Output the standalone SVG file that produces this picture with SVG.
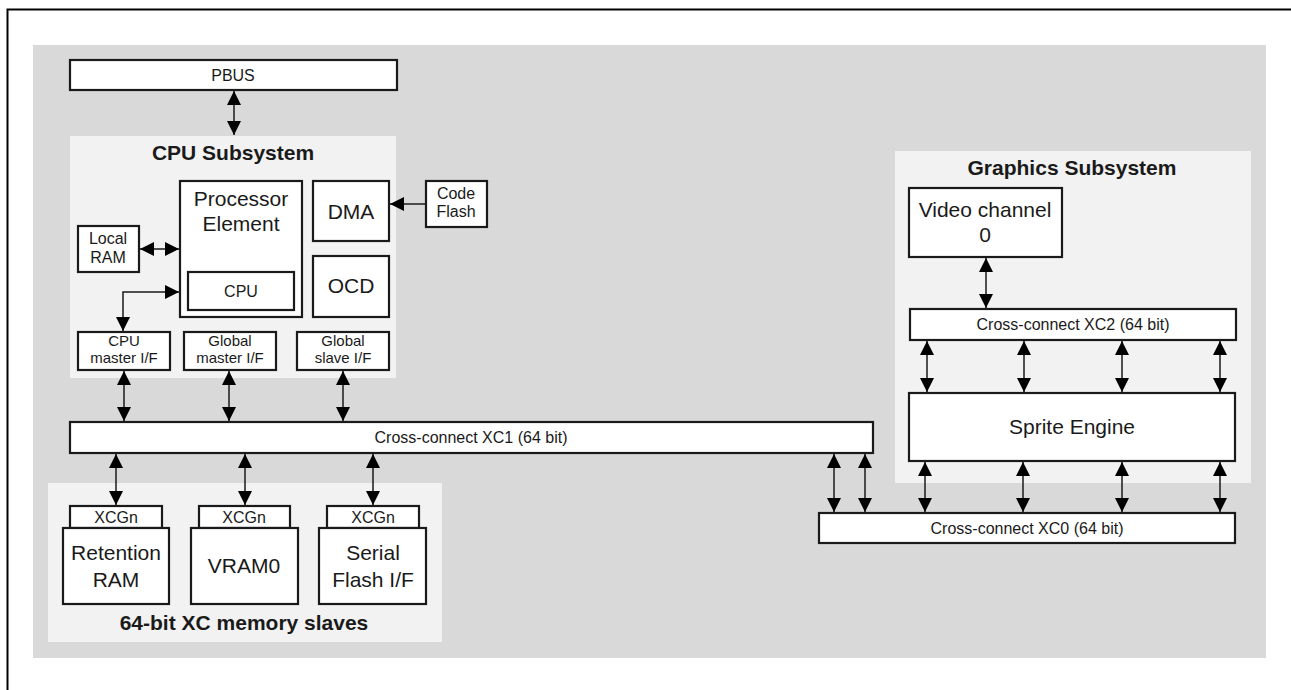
<svg xmlns="http://www.w3.org/2000/svg" width="1291" height="690" viewBox="0 0 1291 690">
<style>
.frame{fill:none;stroke:#000;stroke-width:2}
.bg{fill:#d9d9d9}
.sub{fill:#f2f2f2}
.box{fill:#fff;stroke:#1a1a1a;stroke-width:2.2}
.t{font-family:"Liberation Sans",Arial,sans-serif;fill:#1a1a1a;text-anchor:middle}
.big{font-size:21px}
.med{font-size:16px}
.sm{font-size:16px}
.ifl{font-size:15px}
.ttl{font-size:21px;font-weight:bold}
.c{fill:none;stroke:#1a1a1a;stroke-width:1.5}
</style>
<defs>
<marker id="ah" viewBox="0 0 14 14" refX="14" refY="7" markerWidth="14" markerHeight="14" markerUnits="userSpaceOnUse" orient="auto-start-reverse">
<path d="M0,0 L14,7 L0,14 Z" fill="#000"/>
</marker>
</defs>
<rect x="7.5" y="9.5" width="1300" height="700" class="frame"/>
<rect x="33" y="45" width="1233" height="613" class="bg"/>
<rect x="70" y="136" width="326" height="242" class="sub"/>
<rect x="48" y="483" width="394" height="159" class="sub"/>
<rect x="895" y="151" width="356" height="332" class="sub"/>
<text class="t ttl" x="233" y="160">CPU Subsystem</text>
<text class="t ttl" x="244" y="630">64-bit XC memory slaves</text>
<text class="t ttl" x="1072" y="175">Graphics Subsystem</text>

<g id="pbus"><rect x="70" y="60" width="327" height="30" class="box"/><text class="t sm" x="233" y="81">PBUS</text></g>
<g id="pe"><rect x="180" y="181" width="122" height="136" class="box"/><text class="t big" x="241" y="206">Processor</text><text class="t big" x="241" y="231">Element</text></g>
<g id="cpu"><rect x="188" y="272" width="106" height="38" class="box"/><text class="t med" x="241" y="297">CPU</text></g>
<g id="dma"><rect x="313" y="181" width="76" height="60" class="box"/><text class="t big" x="351" y="219">DMA</text></g>
<g id="ocd"><rect x="313" y="256" width="76" height="61" class="box"/><text class="t big" x="351" y="293">OCD</text></g>
<g id="codeflash"><rect x="426" y="181" width="61" height="46" class="box"/><text class="t med" x="456" y="199">Code</text><text class="t med" x="456" y="217">Flash</text></g>
<g id="localram"><rect x="78" y="226" width="61" height="46" class="box"/><text class="t med" x="108" y="244">Local</text><text class="t med" x="108" y="263">RAM</text></g>
<g id="cpumif"><rect x="78" y="332" width="92" height="38" class="box"/><text class="t ifl" x="124" y="346">CPU</text><text class="t ifl" x="124" y="363">master I/F</text></g>
<g id="gmif"><rect x="184" y="332" width="92" height="38" class="box"/><text class="t ifl" x="230" y="346">Global</text><text class="t ifl" x="230" y="363">master I/F</text></g>
<g id="gsif"><rect x="297" y="332" width="92" height="38" class="box"/><text class="t ifl" x="343" y="346">Global</text><text class="t ifl" x="343" y="363">slave I/F</text></g>
<g id="xc1"><rect x="70" y="422" width="803" height="31" class="box"/><text class="t sm" x="471" y="443">Cross-connect XC1 (64 bit)</text></g>
<g id="xcgn1"><rect x="70" y="506" width="92" height="22" class="box"/><text class="t med" x="116" y="523">XCGn</text></g>
<g id="xcgn2"><rect x="199" y="506" width="91" height="22" class="box"/><text class="t med" x="244" y="523">XCGn</text></g>
<g id="xcgn3"><rect x="327" y="506" width="92" height="22" class="box"/><text class="t med" x="373" y="523">XCGn</text></g>
<g id="retram"><rect x="63" y="528" width="106" height="76" class="box"/><text class="t big" x="116" y="560">Retention</text><text class="t big" x="116" y="587">RAM</text></g>
<g id="vram0"><rect x="191" y="528" width="107" height="76" class="box"/><text class="t big" x="244" y="573">VRAM0</text></g>
<g id="sflash"><rect x="319" y="528" width="107" height="76" class="box"/><text class="t big" x="373" y="560">Serial</text><text class="t big" x="373" y="587">Flash I/F</text></g>
<g id="vc0"><rect x="909" y="188" width="153" height="69" class="box"/><text class="t big" x="985" y="217">Video channel</text><text class="t big" x="985" y="242">0</text></g>
<g id="xc2"><rect x="910" y="309" width="326" height="31" class="box"/><text class="t sm" x="1073" y="330">Cross-connect XC2 (64 bit)</text></g>
<g id="sprite"><rect x="909" y="393" width="326" height="68" class="box"/><text class="t big" x="1072" y="434">Sprite Engine</text></g>
<g id="xc0"><rect x="819" y="513" width="416" height="30" class="box"/><text class="t sm" x="1027" y="534">Cross-connect XC0 (64 bit)</text></g>

<g id="connectors" class="c" marker-start="url(#ah)" marker-end="url(#ah)">
<line x1="234" y1="91" x2="234" y2="135"/>
<line x1="140" y1="249" x2="179" y2="249"/>
<polyline points="179,292 123,292 123,331"/>
<line x1="124" y1="371" x2="124" y2="421"/>
<line x1="229" y1="371" x2="229" y2="421"/>
<line x1="343" y1="371" x2="343" y2="421"/>
<line x1="116" y1="454" x2="116" y2="505"/>
<line x1="245" y1="454" x2="245" y2="505"/>
<line x1="373" y1="454" x2="373" y2="505"/>
<line x1="986" y1="258" x2="986" y2="308"/>
<line x1="927" y1="341" x2="927" y2="392"/>
<line x1="1024" y1="341" x2="1024" y2="392"/>
<line x1="1122" y1="341" x2="1122" y2="392"/>
<line x1="1220" y1="341" x2="1220" y2="392"/>
<line x1="925" y1="462" x2="925" y2="512"/>
<line x1="1023" y1="462" x2="1023" y2="512"/>
<line x1="1122" y1="462" x2="1122" y2="512"/>
<line x1="1220" y1="462" x2="1220" y2="512"/>
<line x1="834" y1="454" x2="834" y2="512"/>
<line x1="865" y1="454" x2="865" y2="512"/>
<line x1="425" y1="204" x2="390" y2="204" marker-start="none"/>
</g>
</svg>
